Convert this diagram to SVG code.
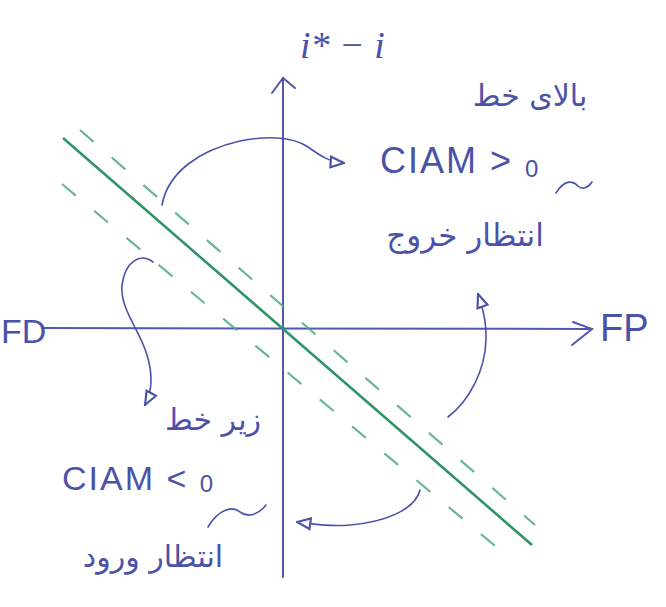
<svg xmlns="http://www.w3.org/2000/svg" width="666" height="607" viewBox="0 0 666 607">
<style>
.axis{stroke:#5058b0;stroke-width:2;fill:none;stroke-linecap:round}
.ink{stroke:#4b52aa;stroke-width:1.6;fill:none;stroke-linecap:round}
.main{stroke:#2f9466;stroke-width:2.6;fill:none}
.dash{stroke:#4faa80;stroke-width:2.2;fill:none;stroke-dasharray:18 24;opacity:0.85}
.lat{font-family:"Liberation Sans",Arial,sans-serif;fill:#4b52aa}
.fa{font-family:"DejaVu Sans",sans-serif;fill:#4b52aa}
</style>
<defs>
<marker id="tri" viewBox="0 0 12 10" refX="11" refY="5" markerWidth="16" markerHeight="14" markerUnits="userSpaceOnUse" orient="auto">
<path d="M1,1 L11,5 L1,9 Z" fill="#fff" stroke="#4b52aa" stroke-width="1.6"/>
</marker>
</defs>
<rect width="666" height="607" fill="#fff"/>
<g id="axes">
<line class="axis" x1="283" y1="78" x2="283" y2="577"/>
<polyline class="axis" points="272,93 283,78 295,88"/>
<line class="axis" x1="42" y1="328" x2="592" y2="329"/>
<polyline class="axis" points="573,322 592,329 572,345"/>
</g>
<g id="lines">
<line class="main" x1="63" y1="138" x2="532" y2="545"/>
<line class="dash" x1="80" y1="130" x2="535" y2="525"/>
<line class="dash" x1="62" y1="184" x2="500" y2="550"/>
</g>
<g id="connectors">
<path class="ink" d="M162,205 C168,172 200,150 240,141 C265,136 292,136 308,147 C322,157 330,162 344,163" marker-end="url(#tri)"/>
<path class="ink" d="M153,262 C140,252 125,262 122,285 C120,310 140,330 147,355 C153,375 152,392 145,405" marker-end="url(#tri)"/>
<path class="ink" d="M448,417 C470,400 485,370 486,340 C487,320 482,305 478,294" marker-end="url(#tri)"/>
<path class="ink" d="M420,490 C415,510 385,522 350,525 C330,527 312,524 297,522" marker-end="url(#tri)"/>
</g>
<g id="label-y">
<text x="300" y="58" font-family="Liberation Serif,serif" font-style="italic" font-size="38" fill="#4b52aa">i* − i</text>
</g>
<g id="label-fd">
<text class="lat" x="1" y="343" font-size="34">FD</text>
</g>
<g id="label-fp">
<text class="lat" x="600" y="341" font-size="38">FP</text>
</g>
<g id="above">
<text class="fa" x="530" y="106" font-size="30" text-anchor="middle" direction="rtl">بالای خط</text>
<text class="lat" x="380" y="173" font-size="36" letter-spacing="2">CIAM &gt; <tspan font-size="24" dy="4">0</tspan></text>
<path class="ink" d="M556,193 C564,180 572,180 578,186 C582,190 588,188 592,182"/>
<text class="fa" x="465" y="246" font-size="31" text-anchor="middle" direction="rtl">انتظار خروج</text>
</g>
<g id="below">
<text class="fa" x="213" y="430" font-size="30" text-anchor="middle" direction="rtl">زیر خط</text>
<text class="lat" x="62" y="490" font-size="34" letter-spacing="2">CIAM &lt; <tspan font-size="24" dy="2">0</tspan></text>
<path class="ink" d="M208,527 C218,510 232,505 240,512 C248,518 258,515 266,505"/>
<text class="fa" x="153" y="567" font-size="30" text-anchor="middle" direction="rtl">انتظار ورود</text>
</g>
</svg>
